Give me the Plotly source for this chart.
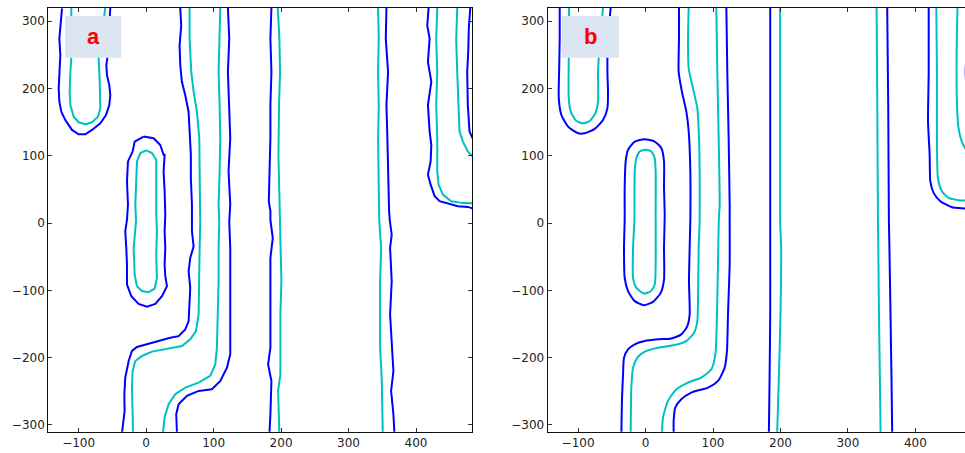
import plotly.graph_objects as go

# ---------------- data: contour polylines ----------------
# Panel a (noisy field)
A_BLUE_1_X = [-124.7, -127.2, -128.6, -127.2, -128.6, -129.6, -128.6, -125.7, -119.8, -109.9, -100, -90.1, -80.2, -67.9, -59.5, -54.6, -53.1, -54.6, -58, -59, -57, -55.6, -53.1]
A_BLUE_1_Y = [319, 293.6, 274, 249, 224.6, 200, 180.3, 165.5, 153, 138.4, 132, 132, 138.4, 148.3, 160.6, 175.4, 190.1, 205, 219.7, 234.5, 249, 274, 320]
A_CYAN_1_X = [-110.9, -110.9, -112.3, -113.3, -112.3, -107.4, -100, -90.1, -80.2, -71.4, -67.9, -67.9, -68.9, -70.4, -60.5]
A_CYAN_1_Y = [320, 244.3, 224.6, 195, 175.4, 158, 149.8, 146.8, 149.8, 158, 170.4, 195, 214.8, 244.3, 320]

A_BLUE_2_X = [-3.7, -17, -20, -26.9, -28.4, -26.9, -28.4, -30.9, -29.4, -28.4, -28.4, -22, -11.1, 1.2, 13.6, 23.5, 30.9, 28.4, 27.4, 28.4, 27.4, 28.4, 27.4, 25.9, 27.4, 25.9, 21, 11.1, -3.7]
A_BLUE_2_Y = [128.6, 121, 106.4, 91.6, 62, 27.6, 5, -12.3, -37, -61.7, -91.4, -108.6, -120, -124.4, -120, -108.6, -93.8, -79, -61.7, -37, -12.3, 12.3, 47.3, 76.8, 101.5, 101.5, 116, 126, 128.6]
A_CYAN_2_X = [0.2, -8.6, -13.6, -15, -16, -15, -16, -18.5, -17, -13.6, -6.2, 3.7, 12.6, 16, 15, 16, 15, 15, 16, 15, 8.6, 0.2]
A_CYAN_2_Y = [107.9, 104, 91.6, 62, 27.6, 2, -12.3, -37, -76.5, -93.8, -101, -102.7, -97.3, -81.5, -47, -12.3, 12.3, 27.6, 67, 94, 104, 107.9]

A_BLUE_3_X = [50.6, 52, 49.6, 50.6, 53, 58, 62.9, 64.4, 66.3, 66.3, 67.9, 67.9, 70.4, 65.4, 63, 65.4, 63.9, 63, 58, 48.1, 35.8, 18.5, -1.5, -13.6, -21, -25.9, -30.9, -32.3, -31.9, -34.8, -35.8]
A_BLUE_3_Y = [320, 293.6, 264, 234.5, 210, 190, 165.5, 136, 101.5, 67, 27.6, -12.3, -34.6, -51.9, -71.6, -96.3, -126, -145.7, -158, -168, -170.4, -175.3, -180.2, -184.2, -190, -205, -229.6, -254.3, -279, -303.7, -312]
A_CYAN_3_X = [64.4, 64.4, 66.9, 70.4, 75.3, 78.8, 79.3, 80.2, 80.2, 79.3, 78.8, 77.8, 73.8, 65.4, 53, 28.4, 8.6, -6.2, -16, -20, -21, -20, -19.5]
A_CYAN_3_Y = [320, 274, 224.6, 195, 165.5, 126, 77, 27.6, 2, -37, -86.4, -135.8, -160.5, -172.8, -182.7, -187.7, -191, -197.5, -205, -219.8, -244.4, -284, -312]

A_CYAN_4_X = [109.9, 108.4, 107.4, 108.9, 109.9, 108.9, 107.4, 108.4, 107.4, 107.4, 105.9, 104.9, 102.5, 95, 77.8, 58, 43.2, 33.3, 27.4, 24.9]
A_CYAN_4_Y = [320, 274, 224.6, 175.4, 126, 77, 27.6, 2, -37, -86.4, -135.8, -185.2, -210, -227, -237, -244.4, -254.3, -269, -288.9, -312]
A_BLUE_4_X = [121.2, 123.2, 121.2, 123.2, 124.7, 122.2, 124.7, 123.2, 124.7, 124.7, 124.7, 124.7, 119.8, 110, 97.5, 77.8, 60.5, 48.1, 44.6, 45.7]
A_BLUE_4_Y = [320, 274, 224.6, 175.4, 126, 77, 27.6, 2, -37, -86.4, -135.8, -195, -214.8, -234.6, -247, -249.4, -256.8, -269.1, -284, -312]

A_BLUE_5_X = [185.7, 184.2, 185.7, 184.2, 184.2, 182.8, 181.8, 184.2, 184.2, 187.7, 184.2, 184.2, 184.2, 180.8, 185.7, 184.2, 182.8]
A_BLUE_5_Y = [320, 274, 224.6, 175.4, 126, 77, 32.5, 17.7, 5, -22.2, -51.9, -111, -185, -210, -234.6, -284, -312]
A_CYAN_5_X = [195.1, 197.5, 198.5, 197, 196.1, 197, 198, 199, 199, 200.5, 199, 199, 195.6, 196.6, 197.5]
A_CYAN_5_Y = [320, 274, 224.6, 175.4, 101, 52, 5, -37, -37.5, -86.4, -135.8, -224.7, -249.4, -284, -312]

A_CYAN_6_X = [343.8, 344.8, 343.8, 344.8, 343.8, 344.8, 345.5, 348.3, 346.8, 346.8, 349.3, 350.7]
A_CYAN_6_Y = [320, 274, 224.6, 175.4, 126, 77, 5, -37, -86.4, -185, -234.6, -312]
A_BLUE_6_X = [356.2, 355.2, 358.6, 356.2, 357.6, 358.6, 360.1, 361.3, 364, 361.6, 364, 361.6, 366.5, 363.1, 366.5, 368]
A_BLUE_6_Y = [320, 274, 224.6, 175.4, 126, 77, 17.7, 3, -17.3, -37, -86.4, -135.8, -219.8, -249.4, -284, -312]

A_BLUE_7_X = [418.7, 416.7, 420.2, 417.7, 422.7, 417.7, 420.2, 422.7, 421.7, 417.7, 421.7, 427.6, 435, 447.3, 462, 476.8, 490]
A_BLUE_7_Y = [320, 293.6, 274, 239.4, 210, 175.4, 136, 116.3, 91.6, 72, 57, 40, 32.5, 28.6, 25, 24, 20]
A_CYAN_7_X = [431.5, 430, 431.5, 430, 431.5, 431.5, 433.5, 439.9, 452.2, 467, 479.3, 490]
A_CYAN_7_Y = [320, 274, 224.6, 175.4, 126, 77, 57, 42.4, 32.5, 30, 29.5, 29]
A_CYAN_8_X = [461.1, 459.6, 461.1, 463, 464.5, 469.5, 476.8, 484, 490]
A_CYAN_8_Y = [320, 274, 224.6, 175.4, 136, 121, 106.4, 99, 97]
A_BLUE_8_X = [480.5, 478.3, 477.5, 475.9, 476.8, 479.3, 484, 490]
A_BLUE_8_Y = [320, 290, 256.6, 224.6, 175.4, 136, 126, 122]

# Panel b (smooth field)
B_BLUE_1_X = [-127.2, -127.2, -128.1, -128.6, -124.7, -114.8, -100, -90.1, -75.3, -63, -56.5, -55.6, -56.5, -55.6, -51.6]
B_BLUE_1_Y = [320, 274, 224.6, 185.2, 160.6, 143.3, 133.5, 133.5, 140, 153.2, 170.4, 195, 224.6, 274, 320]
B_CYAN_1_X = [-113.3, -113.8, -113.8, -110.9, -102.5, -92.6, -82.7, -74.3, -70.4, -70.4, -69.4, -63]
B_CYAN_1_Y = [320, 244.3, 185.2, 165.5, 151.7, 148.3, 151.7, 163, 180.3, 224.6, 244.3, 320]

B_BLUE_2_X = [-1.2, -16, -25.9, -29.4, -30.9, -30.9, -31.9, -30.9, -25.9, -16, -2.2, 11.1, 22.5, 27.4, 27.4, 28.4, 27.4, 27.4, 23.5, 13.6, -1.2]
B_BLUE_2_Y = [124.6, 121, 108.9, 91.6, 52.2, 5, -37, -81.5, -101.2, -116, -122, -117, -103.7, -84, -37, 12.3, 52.2, 91.6, 111.3, 121, 124.6]
B_CYAN_2_X = [0.2, -8.6, -13.6, -16, -16.5, -18.5, -18.5, -13.6, -2.2, 7.7, 13.6, 15, 15, 15, 13.6, 8.6, 0.2]
B_CYAN_2_Y = [108.9, 106.4, 96.5, 76.8, 5, -37, -81.5, -96.3, -104.7, -101.2, -91.4, -61.7, 12.3, 76.8, 96.5, 106.4, 108.9]

B_BLUE_3_X = [49.6, 49.6, 49.1, 54, 60.5, 64, 66.4, 66.4, 65.4, 64.4, 65.4, 62, 53, 38.3, 18.5, -1.2, -16, -25.9, -31.9, -33.3, -34.8, -35.8]
B_BLUE_3_Y = [320, 274, 224.6, 195, 165.5, 136, 77, 5, -37, -86.4, -135.8, -153, -165.4, -171.4, -172.8, -175.3, -180.2, -187.7, -200, -224.7, -259.3, -312]
B_CYAN_3_X = [64, 63, 64, 70.4, 76.8, 79.3, 80.2, 80.2, 78.8, 77.8, 76.8, 71.9, 60.5, 43.2, 18.5, -1.2, -12.1, -18.5, -21, -22]
B_CYAN_3_Y = [320, 274, 229.5, 200, 170.4, 126, 77, 5, -37, -111, -145.7, -163, -175.3, -181.2, -185.2, -191, -200, -214.8, -244.4, -312]

B_CYAN_4_X = [104.9, 106.4, 108.4, 109.9, 108.6, 107.4, 105.9, 103.5, 97.5, 82.7, 63, 45.7, 33.3, 25.9, 24.4]
B_CYAN_4_Y = [320, 224.6, 126, 27.6, 5, -61.7, -135.8, -195, -217.3, -229.6, -237, -247, -264.2, -288.9, -312]
B_BLUE_4_X = [119.8, 121.2, 123.2, 124.7, 124.7, 124.7, 122.2, 120.7, 117.3, 107.4, 92.6, 67.9, 53, 44.2, 41.7, 41.7]
B_BLUE_4_Y = [320, 224.6, 126, 27.6, 5, -61.7, -135.8, -190, -214.8, -234.6, -244.4, -251.9, -261.7, -274, -293.8, -312]

B_BLUE_5_X = [184.8, 184.8, 184.8, 184.8, 183.8, 182.8]
B_BLUE_5_Y = [320, 5, -37, -135.8, -234.6, -312]
B_CYAN_5_X = [199.5, 199.5, 201, 200, 197.5, 195.1]
B_CYAN_5_Y = [320, 5, -37, -135.8, -234.6, -312]
B_CYAN_6_X = [342.5, 343.5, 344.5, 345, 346, 347.4, 348.4]
B_CYAN_6_Y = [320, 175.4, 5, -37, -135.8, -234.6, -312]
B_BLUE_6_X = [358.2, 359.7, 360.7, 361.5, 363.1, 364.6, 365.6]
B_BLUE_6_Y = [320, 175.4, 5, -37, -135.8, -234.6, -312]

B_BLUE_7_X = [419.7, 419.7, 418.7, 421.1, 422.1, 427, 436.9, 454, 473.7, 490]
B_BLUE_7_Y = [320, 224.6, 150.7, 101.5, 62, 44.8, 32.5, 23.6, 21.7, 20]
B_CYAN_7_X = [431, 431.9, 431.9, 433.4, 439.3, 449.1, 463.9, 473.7, 490]
B_CYAN_7_Y = [320, 224.6, 126, 67, 47.3, 37.4, 34, 33.5, 33]
B_CYAN_8_X = [462.4, 461.4, 461.4, 463.9, 468.8, 473.7, 480, 490]
B_CYAN_8_Y = [320, 278.8, 185.2, 140.9, 121, 111.3, 104, 100]
B_BLUE_8_X = [477, 476, 474.5, 476, 478, 484, 490]
B_BLUE_8_Y = [320, 260, 225, 190, 140, 126, 122]

X_TICKS = [-100, 0, 100, 200, 300, 400]
Y_TICKS = [-300, -200, -100, 0, 100, 200, 300]
PANEL_LABELS = ["a", "b"]

BLUE = "#0000ff"
CYAN = "#00bfbf"

fig = go.Figure()

panel_a = [
    (A_BLUE_1_X, A_BLUE_1_Y, BLUE), (A_CYAN_1_X, A_CYAN_1_Y, CYAN),
    (A_BLUE_2_X, A_BLUE_2_Y, BLUE), (A_CYAN_2_X, A_CYAN_2_Y, CYAN),
    (A_BLUE_3_X, A_BLUE_3_Y, BLUE), (A_CYAN_3_X, A_CYAN_3_Y, CYAN),
    (A_CYAN_4_X, A_CYAN_4_Y, CYAN), (A_BLUE_4_X, A_BLUE_4_Y, BLUE),
    (A_BLUE_5_X, A_BLUE_5_Y, BLUE), (A_CYAN_5_X, A_CYAN_5_Y, CYAN),
    (A_CYAN_6_X, A_CYAN_6_Y, CYAN), (A_BLUE_6_X, A_BLUE_6_Y, BLUE),
    (A_BLUE_7_X, A_BLUE_7_Y, BLUE), (A_CYAN_7_X, A_CYAN_7_Y, CYAN),
    (A_CYAN_8_X, A_CYAN_8_Y, CYAN), (A_BLUE_8_X, A_BLUE_8_Y, BLUE),
]
panel_b = [
    (B_BLUE_1_X, B_BLUE_1_Y, BLUE), (B_CYAN_1_X, B_CYAN_1_Y, CYAN),
    (B_BLUE_2_X, B_BLUE_2_Y, BLUE), (B_CYAN_2_X, B_CYAN_2_Y, CYAN),
    (B_BLUE_3_X, B_BLUE_3_Y, BLUE), (B_CYAN_3_X, B_CYAN_3_Y, CYAN),
    (B_CYAN_4_X, B_CYAN_4_Y, CYAN), (B_BLUE_4_X, B_BLUE_4_Y, BLUE),
    (B_BLUE_5_X, B_BLUE_5_Y, BLUE), (B_CYAN_5_X, B_CYAN_5_Y, CYAN),
    (B_CYAN_6_X, B_CYAN_6_Y, CYAN), (B_BLUE_6_X, B_BLUE_6_Y, BLUE),
    (B_BLUE_7_X, B_BLUE_7_Y, BLUE), (B_CYAN_7_X, B_CYAN_7_Y, CYAN),
    (B_CYAN_8_X, B_CYAN_8_Y, CYAN), (B_BLUE_8_X, B_BLUE_8_Y, BLUE),
]

for xs, ys, col in panel_a:
    fig.add_trace(go.Scatter(x=xs, y=ys, mode="lines", xaxis="x", yaxis="y",
                             line=dict(color=col, width=2), hoverinfo="skip", showlegend=False))
for xs, ys, col in panel_b:
    fig.add_trace(go.Scatter(x=xs, y=ys, mode="lines", xaxis="x2", yaxis="y2",
                             line=dict(color=col, width=2, shape="spline", smoothing=0.6),
                             hoverinfo="skip", showlegend=False))

W, H = 965, 453
ax_common = dict(showgrid=False, zeroline=False, showline=True, linecolor="#111", linewidth=1.2,
                 ticks="inside", ticklen=4, tickwidth=1, tickcolor="#333",
                 tickfont=dict(family="DejaVu Sans", size=12, color="#222"))

fig.update_layout(
    width=W, height=H, margin=dict(l=0, r=0, t=0, b=0),
    paper_bgcolor="white", plot_bgcolor="white",
    xaxis=dict(domain=[48.3 / W, 472 / W], range=[-145, 483], tickvals=X_TICKS, mirror="ticks",
               anchor="y", **ax_common),
    yaxis=dict(domain=[1 - 431.7 / H, 1 - 7.7 / H], range=[-310, 320], tickvals=Y_TICKS, mirror="ticks",
               anchor="x", **ax_common),
    xaxis2=dict(domain=[547.7 / W, 1.0], range=[-145, 473.5], tickvals=X_TICKS, mirror="ticks",
                anchor="y2", **ax_common),
    yaxis2=dict(domain=[1 - 431.7 / H, 1 - 7.7 / H], range=[-310, 320], tickvals=Y_TICKS, mirror=False,
                anchor="x2", **ax_common),
)

# panel label boxes (paper coordinates)
boxes = [(65, 121), (561.7, 619)]
for (x0, x1), lab in zip(boxes, PANEL_LABELS):
    fig.add_shape(type="rect", xref="paper", yref="paper",
                  x0=x0 / W, x1=x1 / W, y0=1 - 57.7 / H, y1=1 - 16 / H,
                  fillcolor="#dce6f2", line=dict(width=0), layer="above")
    fig.add_annotation(xref="paper", yref="paper", x=(x0 + x1) / 2 / W, y=1 - 37 / H,
                       text="<b>%s</b>" % lab, showarrow=False, xanchor="center", yanchor="middle",
                       font=dict(family="Liberation Sans, Arial", size=22, color="#ff0000"))

fig.write_html("out.html", config={"displayModeBar": False},
               post_script="document.body.style.margin='0';document.body.style.overflow='hidden';")
